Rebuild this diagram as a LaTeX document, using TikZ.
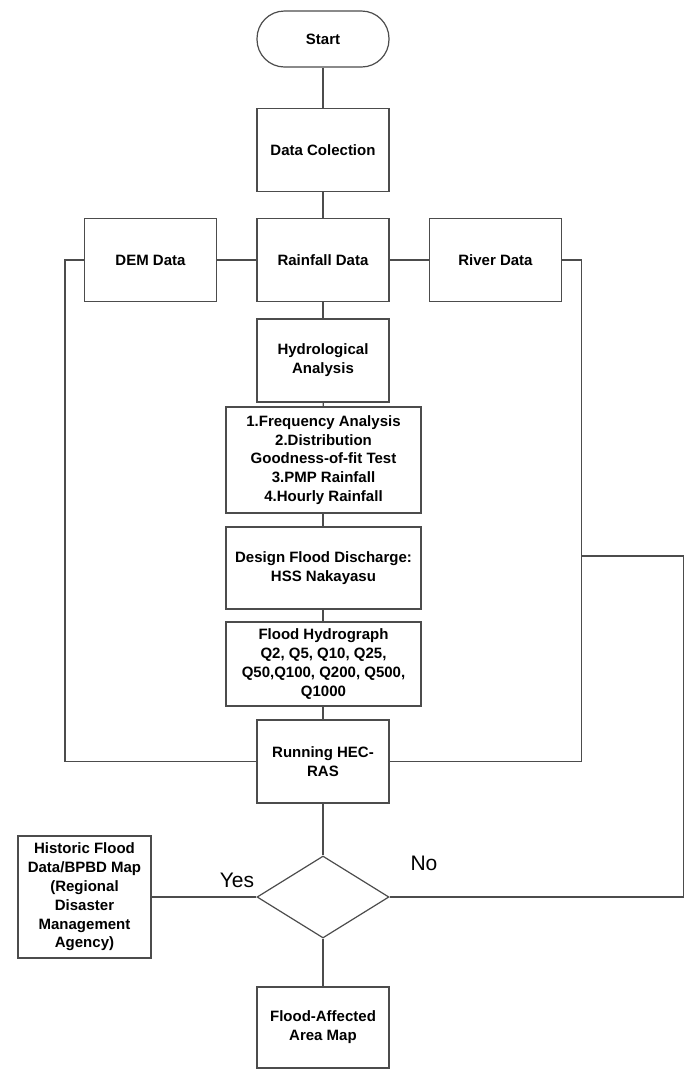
\documentclass[tikz,border=0pt]{standalone}
\usepackage{fontspec}
\setmainfont{Liberation Sans}
\usetikzlibrary{shapes.geometric}

\begin{document}
\begin{tikzpicture}[x=1pt,y=-1pt,
    every node/.style={font=\fontsize{15}{18.8}\selectfont\bfseries, align=center, inner sep=2pt},
    box/.style={draw=black!70, line width=1.2pt, rectangle, minimum width=132pt, minimum height=83pt},
    widebox/.style={box, minimum width=195pt},
    term/.style={box, minimum height=56pt, rounded corners=27.5pt},
    decide/.style={draw=black!70, line width=1.2pt, diamond, minimum width=132pt, minimum height=82pt, inner sep=0pt},
    link/.style={draw=black!70, line width=1.2pt},
    answer/.style={font=\fontsize{21}{24}\selectfont}]
    \useasboundingbox (0,0) rectangle (689,1069);
    % main column
    \node[term] (start) at (323,39) {Start};
    \node[box] (collect) at (323,150) {Data Colection};
    \node[box] (rain) at (323,260) {Rainfall Data};
    \node[box] (dem) at (150.5,260) {DEM Data};
    \node[box] (river) at (495.5,260) {River Data};
    \node[box] (hydro) at (323,360.5) {Hydrological\\Analysis};
    \node[widebox, minimum height=106pt] (methods) at (323.5,460) {1.Frequency Analysis\\2.Distribution\\Goodness-of-fit Test\\3.PMP Rainfall\\4.Hourly Rainfall};
    \node[widebox, minimum height=82pt] (design) at (323.5,568) {Design Flood Discharge:\\HSS Nakayasu};
    \node[widebox, minimum height=84pt] (hydrograph) at (323.5,664) {Flood Hydrograph\\Q2, Q5, Q10, Q25,\\Q50,Q100, Q200, Q500,\\Q1000};
    \node[box] (hecras) at (323,761.5) {Running HEC-\\RAS};
    \node[decide] (check) at (323,897) {};
    \node[box, minimum width=133pt, minimum height=122pt] (historic) at (84.5,897) {Historic Flood\\Data/BPBD Map\\(Regional\\Disaster\\Management\\Agency)};
    \node[box, minimum height=81pt] (floodmap) at (323,1027.5) {Flood-Affected\\Area Map};
    \node[answer] (yes) at (237,880) {Yes};
    \node[answer] (no) at (424,863) {No};
    \coordinate (nojoin) at (581.5,556);

    \draw[link] (start) -- (collect);
    \draw[link] (collect) -- (rain);
    \draw[link] (dem) -- (rain);
    \draw[link] (rain) -- (river);
    \draw[link] (rain) -- (hydro);
    \draw[link] (hydro) -- (methods);
    \draw[link] (methods.south -| hydro) -- (design.north -| hydro);
    \draw[link] (design.south -| hydro) -- (hydrograph.north -| hydro);
    \draw[link] (hydrograph.south -| hydro) -- (hecras);
    \draw[link] (hecras) -- (check);
    \draw[link] (check) -- (floodmap);
    \draw[link] (historic) -- (check);
    % side inputs into HEC-RAS
    \draw[link] (dem.west) -- ++(-19,0) |- (hecras.west);
    \draw[link] (river.east) -- ++(19,0) |- (hecras.east);
    % loop back on No
    \draw[link] (check.east) -- ++(294,0) |- (nojoin);
  \end{tikzpicture}
\end{document}
